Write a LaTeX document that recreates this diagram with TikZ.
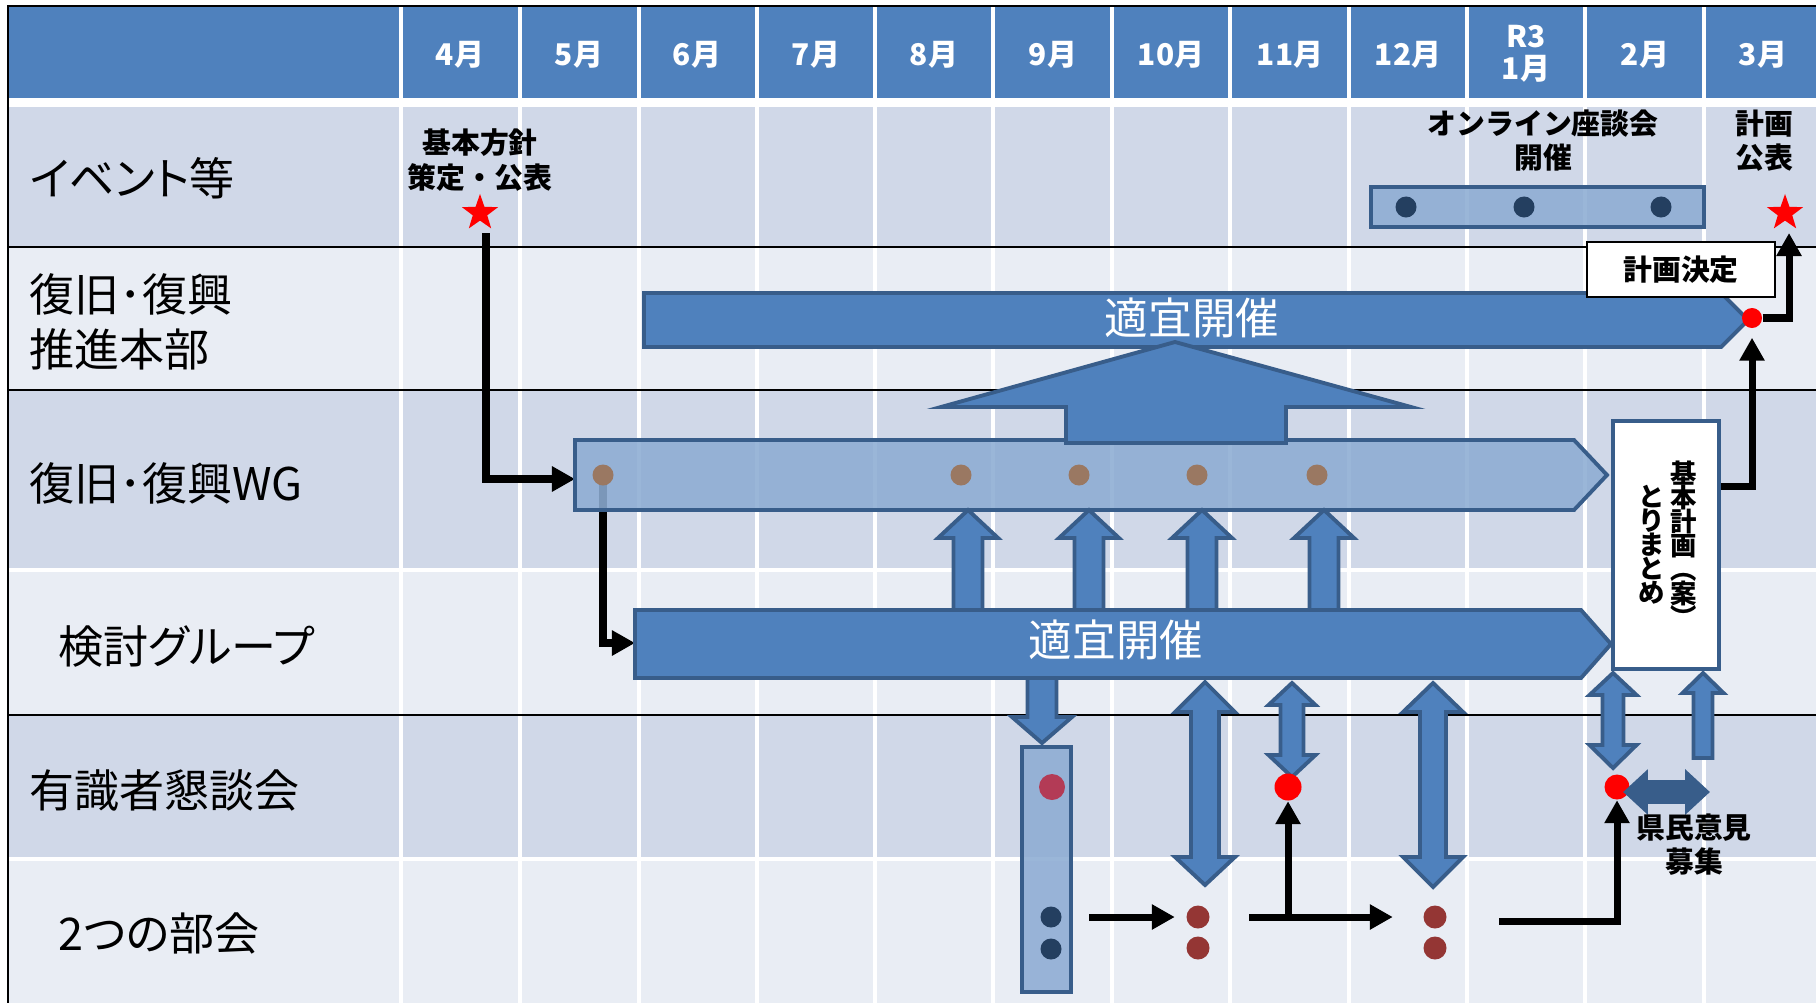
\documentclass[tikz,border=0pt]{standalone}
\usepackage{fontspec}
\setmainfont{Noto Sans CJK JP}
\newfontfamily\labelfont{Noto Sans CJK JP}[RawFeature=+palt]
\usetikzlibrary{arrows.meta,shapes.geometric}
\definecolor{head}{HTML}{4F81BD}
\definecolor{rowdark}{HTML}{D0D8E8}
\definecolor{rowlight}{HTML}{E9EDF4}
\definecolor{barblue}{HTML}{4F81BD}
\definecolor{edgeblue}{HTML}{385D8A}
\definecolor{paleblue}{HTML}{8DACD3}
\definecolor{navydot}{HTML}{243F60}
\definecolor{wgdot}{HTML}{9A7862}
\definecolor{bukaidot}{HTML}{943634}
\definecolor{crimsondot}{HTML}{B33B56}
\setlength{\lineskiplimit}{-5pt}

\newcommand{\twoway}[7]{\draw[blockarrow] (#1,#2) -- ({#1+#6},#3) -- ({#1+#7},#3) -- ({#1+#7},#4) -- ({#1+#6},#4) -- (#1,#5) -- ({#1-#6},#4) -- ({#1-#7},#4) -- ({#1-#7},#3) -- ({#1-#6},#3) -- cycle;}
\newcommand{\oneway}[6]{\draw[blockarrow] (#1,#2) -- ({#1+#5},#3) -- ({#1+#6},#3) -- ({#1+#6},#4) -- ({#1-#6},#4) -- ({#1-#6},#3) -- ({#1-#5},#3) -- cycle;}

\begin{document}
\begin{tikzpicture}[x=0.01cm, y=-0.01cm,
  rowlabel/.style={anchor=west, inner sep=0, font=\labelfont\fontsize{12.8}{15.6}\selectfont},
  month/.style={text=white, align=center, font=\bfseries\fontsize{8.5}{9.1}\selectfont},
  note/.style={align=center, inner sep=0, font=\bfseries\fontsize{8.2}{9.7}\selectfont},
  bartext/.style={text=white, font=\fontsize{12.4}{14}\selectfont},
  vtext/.style={align=center, inner sep=0, font=\bfseries\fontsize{7.5}{6.8}\selectfont},
  gridline/.style={white, line width=0.9pt},
  bar/.style={fill=barblue, draw=edgeblue, line width=1.1pt},
  lightbar/.style={fill=paleblue, fill opacity=0.88, draw=edgeblue, line width=1.1pt},
  blockarrow/.style={fill=barblue, draw=edgeblue, line width=1.1pt},
  dot/.style={circle, inner sep=0, minimum size=2.1mm},
  redstar/.style={star, star points=5, star point ratio=2.5, fill=red, inner sep=0, minimum size=3.8mm},
  conn/.style={line width=2pt, -{Triangle[length=2.3mm, width=2.4mm]}}]
\useasboundingbox (0,0) rectangle (1816,1003);
% rows
\fill[white] (0,0) rectangle (1816,1003);
\fill[head] (8,6) rectangle (1816,98);
\fill[rowdark] (8,107) rectangle (1816,247);
\fill[rowlight] (8,247) rectangle (1816,390);
\fill[rowdark] (8,390) rectangle (1816,570);
\fill[rowlight] (8,570) rectangle (1816,715);
\fill[rowdark] (8,715) rectangle (1816,859);
\fill[rowlight] (8,859) rectangle (1816,1003);
% grid
\draw[gridline] (401,6) -- (401,1003) (520,6) -- (520,1003) (639,6) -- (639,1003)
  (757,6) -- (757,1003) (875,6) -- (875,1003) (993,6) -- (993,1003)
  (1112,6) -- (1112,1003) (1230,6) -- (1230,1003) (1349,6) -- (1349,1003)
  (1467,6) -- (1467,1003) (1585,6) -- (1585,1003) (1704,6) -- (1704,1003);
\draw[gridline] (8,570) -- (1816,570) (8,859) -- (1816,859);
\draw[black, line width=0.6pt] (8,247) -- (1816,247) (8,390) -- (1816,390) (8,715) -- (1816,715);
\draw[black, line width=0.6pt] (1816,6) -- (8,6) -- (8,1003);

% header
\node[month] (m4) at (460,55) {4月};
\node[month] (m5) at (579,55) {5月};
\node[month] (m6) at (697,55) {6月};
\node[month] (m7) at (816,55) {7月};
\node[month] (m8) at (934,55) {8月};
\node[month] (m9) at (1053,55) {9月};
\node[month] (m10) at (1171,55) {10月};
\node[month] (m11) at (1290,55) {11月};
\node[month] (m12) at (1408,55) {12月};
\node[month] (m1) at (1526,54) {R3\\1月};
\node[month] (m2) at (1645,55) {2月};
\node[month] (m3) at (1763,55) {3月};

% row labels
\node[rowlabel] (ev) at (29,178) {イベント等};
\node[rowlabel, align=left] (hq) at (29,322) {復旧･復興\\推進本部};
\node[rowlabel] (wg) at (29,483) {復旧･復興WG};
\node[rowlabel] (kt) at (58,646) {検討グループ};
\node[rowlabel] (ys) at (29,790) {有識者懇談会};
\node[rowlabel] (bk) at (58,933) {2つの部会};

% events
\node[note] (policy) at (480,160) {基本方針\\策定・公表};
\node[redstar] (star1) at (480,213) {};
\node[note] (online) at (1543,141) {オンライン座談会\\開催};
\node[note] (publish) at (1764,141) {計画\\公表};
\node[redstar] (star2) at (1785,213) {};
\draw[lightbar] (1371,187) rectangle (1704,227);
\node[dot, fill=navydot] (on1) at (1406,207) {};
\node[dot, fill=navydot] (on2) at (1524,207) {};
\node[dot, fill=navydot] (on3) at (1661,207) {};

% connectors under the WG bar
\coordinate (wgL) at (575,479);
\coordinate (ktL) at (635,643);
\coordinate (wg1) at (603,475);
\draw[conn] ([xshift=0.6mm, yshift=-2mm]star1.center) |- (wgL);
\draw[conn] (wg1) |- (ktL);

% bars
\draw[bar] (644,293) -- (1721,293) -- (1748,320) -- (1721,347) -- (644,347) -- cycle;
\node[bartext] (hqtext) at (1192,318) {適宜開催};
\draw[lightbar] (575,440) -- (1574,440) -- (1607,475) -- (1574,510) -- (575,510) -- cycle;
\oneway{968}{510}{538}{610}{30}{14.5}
\oneway{1089}{510}{538}{610}{30}{14.5}
\oneway{1202}{510}{538}{610}{30}{14.5}
\oneway{1324}{510}{538}{610}{30}{14.5}
\draw[bar] (635,610) -- (1581,610) -- (1611,644) -- (1581,678) -- (635,678) -- cycle;
\node[bartext] (kttext) at (1116,640) {適宜開催};
\draw[blockarrow] (1175,342) -- (1411,407) -- (1286,407) -- (1286,443) -- (1066,443) -- (1066,407) -- (941,407) -- cycle;
\node[dot, fill=wgdot] (wgd1) at (wg1) {};
\node[dot, fill=wgdot] (wgd2) at (961,475) {};
\node[dot, fill=wgdot] (wgd3) at (1079,475) {};
\node[dot, fill=wgdot] (wgd4) at (1197,475) {};
\node[dot, fill=wgdot] (wgd5) at (1317,475) {};

% meetings
\oneway{1042}{743}{717}{678}{30}{14.5}
\node[lightbar, minimum width=0.49cm, minimum height=2.45cm, inner sep=0] (panel) at (1046.5,869.5) {};
\node[dot, fill=crimsondot, minimum size=2.6mm] (ys1) at (1052,787) {};
\node[dot, fill=navydot] (nv1) at (1051,917) {};
\node[dot, fill=navydot] (nv2) at (1051,949) {};
\twoway{1205}{682}{712}{857}{885}{30}{14}
\twoway{1292}{683}{705}{755}{777}{23.5}{11.5}
\twoway{1433}{683}{712}{857}{887}{30}{13}
\twoway{1613}{673}{695}{745}{768}{23.5}{10.5}
\oneway{1703}{673}{693}{758}{20.5}{9.5}
\node[dot, fill=bukaidot, minimum size=2.3mm] (br1) at (1198,917) {};
\node[dot, fill=bukaidot, minimum size=2.3mm] (br2) at (1198,948) {};
\node[dot, fill=bukaidot, minimum size=2.3mm] (br3) at (1435,917) {};
\node[dot, fill=bukaidot, minimum size=2.3mm] (br4) at (1435,948) {};
\node[dot, fill=red, minimum size=2.7mm] (rd1) at (1288,787) {};
\node[dot, fill=red, minimum size=2.5mm] (rd2) at (1617,787) {};
\draw[fill=edgeblue, draw=edgeblue, line width=1.1pt] (1626,792) -- (1646,773.5) -- (1646,782) -- (1687,782) -- (1687,773.5) -- (1707,792) -- (1687,810.5) -- (1687,802) -- (1646,802) -- (1646,810.5) -- cycle;
\node[note] (opinion) at (1694,845) {県民意見\\募集};

% plan
\node[draw=edgeblue, fill=white, line width=1.1pt, minimum width=1.06cm, minimum height=2.48cm, inner sep=0] (plan) at (1666,545) {};
\node[vtext] (plan1) at (1684,544) {基\\本\\計\\画\\︵\\案\\︶};
\node[vtext] (plan2) at (1652,545) {と\\り\\ま\\と\\め};
\node[draw=black, fill=white, line width=0.6pt, minimum width=1.88cm, minimum height=0.55cm, inner sep=0, font=\bfseries\fontsize{8.2}{9.7}\selectfont] (decide) at (1681,269.5) {計画決定};
\node[dot, fill=red, minimum size=2mm] (rdtop) at (1752,318) {};

% connectors
\coordinate (s1) at (1089,917);
\coordinate (s2) at (1249,917);
\coordinate (s3) at (1499,921);
\draw[conn, shorten >=1.1mm] (s1) -- (br1);
\draw[conn, shorten >=3mm] (s2) -- (br3);
\draw[conn] (rd1 |- s2) -- (rd1);
\draw[conn] (s3) -| (rd2);
\draw[conn, shorten >=0.9mm] ([yshift=0.58cm]plan.east) -| (rdtop);
\draw[conn] (rdtop) -| ([xshift=0.4mm, yshift=-2mm]star2.center);
\end{tikzpicture}
\end{document}
